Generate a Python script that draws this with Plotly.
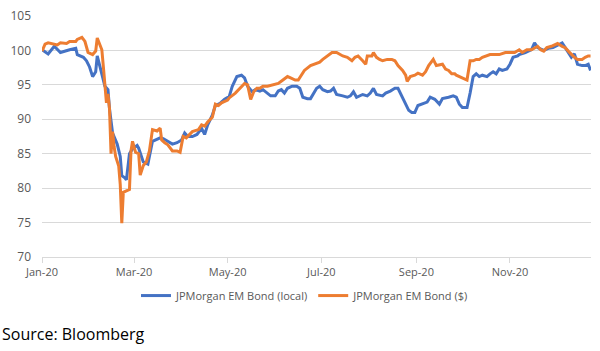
import pandas as pd
import plotly.graph_objects as go

# Days since 2020-01-01 and index levels
local_days = [0, 4, 8, 12, 18, 22, 23, 27, 29, 31, 33, 35, 36, 39, 41, 43, 44, 46, 49, 51, 52, 54, 55,
              57, 59, 62, 63, 66, 69, 72, 77, 79, 82, 85, 88, 91, 93, 95, 98, 101, 104, 106, 108, 111,
              113, 116, 119, 122, 124, 127, 130, 132, 134, 137, 139, 142, 144, 147, 149, 152, 154, 156,
              158, 160, 163, 166, 168, 170, 173, 175, 177, 179, 181, 183, 186, 188, 190, 192, 196, 199,
              201, 203, 205, 209, 212, 214, 216, 218, 222, 224, 227, 230, 232, 235, 237, 239, 241, 243,
              245, 248, 251, 253, 256, 259, 261, 265, 268, 270, 272, 274, 277, 279, 281, 283, 285, 287,
              290, 292, 294, 296, 298, 300, 303, 305, 307, 310, 311, 315, 318, 319, 321, 323, 327, 330,
              333, 336, 339, 341, 343, 345, 347, 349, 352, 354, 356, 357.5]
local_vals = [100.1, 99.5, 100.6, 99.7, 100.1, 100.3, 99.4, 99.0, 98.5, 97.6, 96.2, 96.9, 99.2, 96.6,
              94.8, 94.3, 91.5, 88.0, 86.4, 84.6, 81.8, 81.5, 81.2,
              85.0, 85.7, 86.2, 85.8, 83.8, 83.5, 86.8, 87.3, 87.2, 86.8, 86.4, 86.6, 87.0, 88.0, 87.5,
              87.5, 87.8, 88.7, 87.8, 89.2, 90.6,
              92.0, 92.3, 92.9, 93.3, 94.8, 96.2, 96.4, 96.0, 94.8, 94.0, 94.3, 94.1, 94.3, 93.8, 93.4,
              93.4, 94.1, 94.3,
              93.8, 94.5, 94.8, 94.8, 94.5, 93.2, 93.0, 93.0, 93.8, 94.5, 94.8, 94.3, 94.0, 94.1, 94.5,
              93.6, 93.4, 93.2,
              93.4, 94.0, 93.2, 93.6, 93.4, 93.8, 94.5, 93.6, 93.4, 93.8, 94.1, 94.5, 94.5, 93.2, 92.4,
              91.3, 91.0, 91.0,
              92.0, 92.3, 92.5, 93.2, 92.9, 92.2, 93.0, 93.2, 93.4, 93.2, 92.2, 91.7, 91.7, 93.8, 96.2,
              96.6, 96.2, 96.4,
              96.2, 96.6, 96.9, 96.6, 97.3, 97.1, 97.3, 98.0, 99.0, 99.2, 99.4, 99.7, 100.0, 100.1,
              101.1, 100.4, 100.0, 100.3,
              100.4, 100.8, 101.1, 100.4, 99.7, 99.0, 99.5, 98.0, 97.8, 97.8, 98.0, 97.1]

usd_days = [0, 2, 4, 7, 10, 12, 16, 18, 22, 23, 26, 28, 30, 33, 35, 36, 39, 40, 42, 43, 44, 45, 46, 47,
            48, 50, 51, 52, 53, 55, 57, 58, 59, 61, 63, 64, 66, 68, 70, 72, 75, 77, 78, 80, 82, 85, 88,
            90, 92, 94, 96, 98, 102, 104, 106, 108, 111, 113, 115, 117, 121, 122, 126, 128, 129, 132,
            134, 136, 138, 140, 142, 144, 147, 150, 154, 157, 160, 162, 165, 167, 169, 171, 175, 178,
            181, 183, 186, 189, 192, 196, 199, 202, 204, 206, 209, 211, 212, 215, 216, 218, 220, 222,
            225, 228, 230, 232, 235, 237, 238, 240, 243, 245, 248, 250, 252, 254, 255, 257, 261, 263,
            265, 267, 269, 270, 272, 274, 277, 279, 281, 283, 285, 287, 290, 292, 295, 298, 302, 305,
            308, 311, 313, 316, 319, 323, 325, 327, 329, 332, 334, 336, 339, 341, 343, 345, 347, 349,
            352, 354, 356, 357.5]
usd_vals = [99.9, 100.9, 101.1, 100.9, 100.8, 101.1, 101.0, 101.3, 101.3, 101.6, 101.9, 101.3, 99.7,
            99.4, 99.9, 101.8, 100.1, 97.6, 92.4, 93.7, 91.5, 85.0, 88.2, 86.0,
            84.6, 83.2, 80.5, 74.9, 79.4, 79.6, 79.8, 85.4, 86.8, 85.2, 85.0, 81.9, 83.3, 83.8, 85.4,
            88.5, 88.3, 88.7, 87.0, 86.6, 86.3, 85.4, 85.4,
            85.2, 87.5, 87.3, 87.8, 88.2, 88.5, 89.2, 89.0, 89.6, 90.3, 92.2, 92.0, 92.4, 92.8, 93.1,
            93.8, 94.3, 94.5, 95.2,
            95.0, 92.9, 94.0, 94.5, 94.5, 94.8, 94.8, 95.0, 95.2, 95.7, 96.2, 96.0, 95.7, 95.7, 96.4,
            97.1, 97.8, 98.0,
            98.3, 98.7, 99.2, 99.7, 99.7, 99.2, 99.0, 98.5, 99.0, 99.2, 98.5, 98.0, 99.2, 99.2, 99.7,
            99.0, 98.7, 98.5,
            98.7, 98.7, 98.5, 97.8, 97.1, 96.4, 95.5, 96.2, 96.4, 96.7, 96.4, 96.9, 97.8, 98.3, 98.7,
            97.8, 98.0, 97.3,
            97.1, 96.6, 96.6, 96.4, 96.2, 95.9, 95.7, 98.5, 98.5, 98.7, 98.7, 99.0, 99.2, 99.4, 99.4,
            99.4, 99.7, 99.7,
            99.7, 100.1, 99.7, 100.1, 100.1, 100.6, 100.1, 99.9, 100.4, 100.6, 100.8, 101.0, 100.6,
            100.4, 99.9, 99.4, 99.0, 98.7,
            98.7, 99.0, 99.2, 99.2]

series_names = ["JPMorgan EM Bond (local)", "JPMorgan EM Bond ($)"]
series_colors = ["#4472C4", "#ED7D31"]
tick_dates = ["2020-01-01", "2020-03-01", "2020-05-01", "2020-07-01", "2020-09-01", "2020-11-01"]
tick_labels = ["Jan-20", "Mar-20", "May-20", "Jul-20", "Sep-20", "Nov-20"]
y_ticks = [70, 75, 80, 85, 90, 95, 100, 105]

start = pd.Timestamp("2020-01-01")
local_dates = start + pd.to_timedelta(local_days, unit="D")
usd_dates = start + pd.to_timedelta(usd_days, unit="D")

fig = go.Figure()
fig.add_trace(go.Scatter(x=local_dates, y=local_vals, mode="lines", name=series_names[0],
                         line=dict(color=series_colors[0], width=3)))
fig.add_trace(go.Scatter(x=usd_dates, y=usd_vals, mode="lines", name=series_names[1],
                         line=dict(color=series_colors[1], width=3)))

fig.update_layout(
    width=600, height=351,
    margin=dict(l=42, r=9, t=7, b=94),
    paper_bgcolor="white", plot_bgcolor="white",
    font=dict(family="Open Sans", size=11, color="#595959"),
    legend=dict(orientation="h", x=0.479, y=-0.16, xanchor="center", yanchor="middle",
                font=dict(size=11, color="#595959"), itemwidth=30, bgcolor="rgba(0,0,0,0)"),
    annotations=[dict(text="Source: Bloomberg", xref="paper", yref="paper", x=-0.0765, y=-0.32,
                      xanchor="left", yanchor="middle", showarrow=False,
                      font=dict(family="Open Sans", size=16, color="#000000"))],
)
fig.update_xaxes(
    range=[start, start + pd.Timedelta(days=357.8)],
    tickvals=pd.to_datetime(tick_dates), ticktext=tick_labels,
    showgrid=False, showline=True, linecolor="#d9d9d9", linewidth=1,
    ticks="outside", ticklen=5, tickcolor="#d9d9d9",
    tickfont=dict(size=11, color="#595959"), zeroline=False,
)
fig.update_yaxes(
    range=[70, 105], tickvals=y_ticks,
    showgrid=True, gridcolor="#d9d9d9", gridwidth=1, showline=False, zeroline=False,
    ticks="", ticklabelstandoff=10, ticklabeloverflow="allow",
    tickfont=dict(size=12, color="#595959"),
)

fig.write_html("out.html")
